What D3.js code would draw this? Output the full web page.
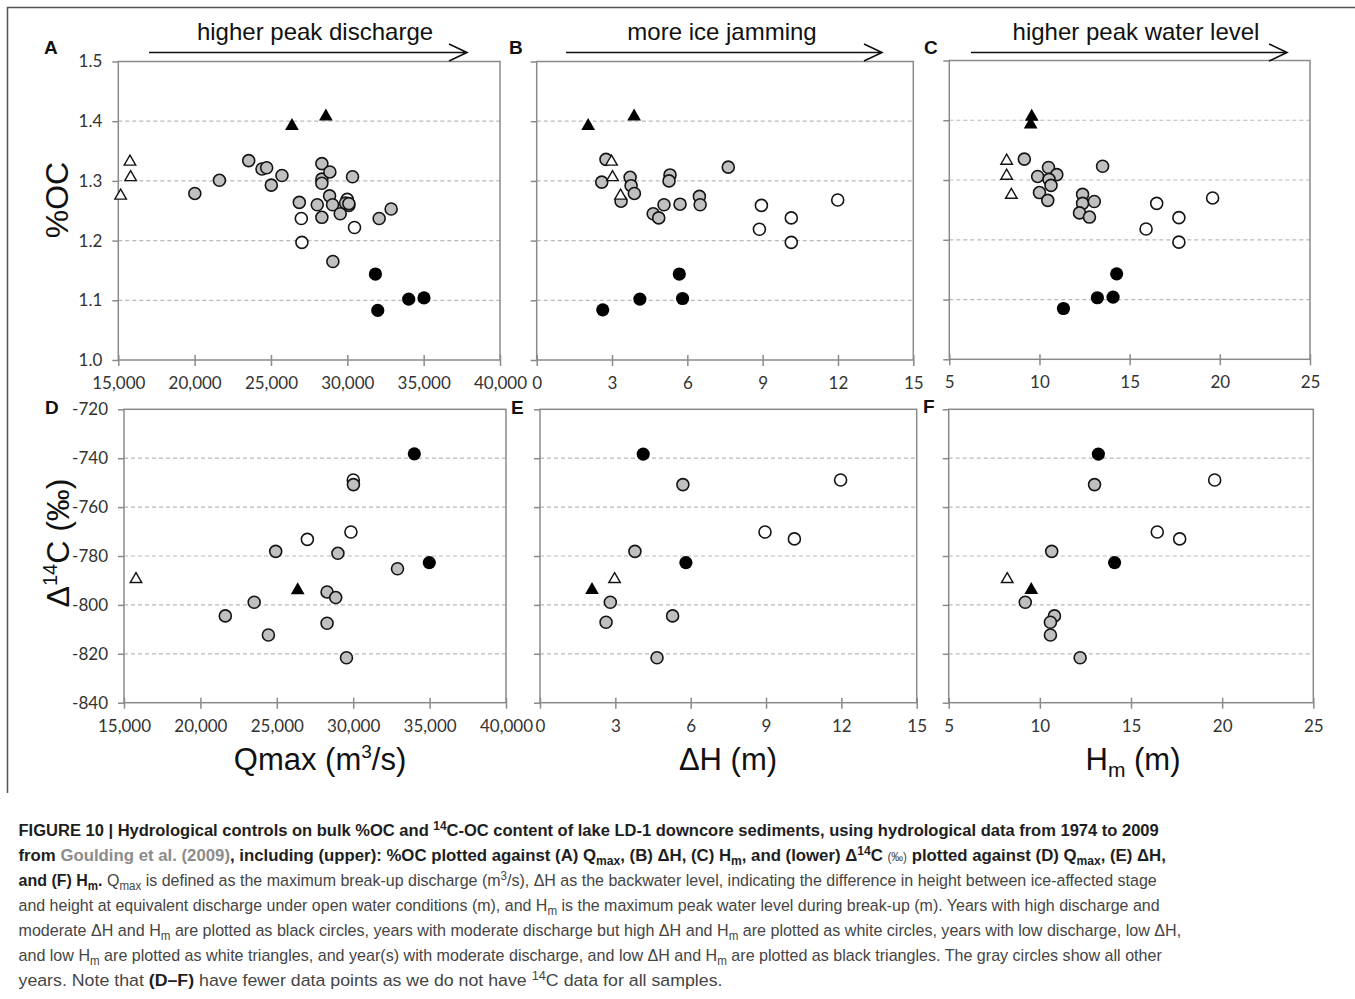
<!DOCTYPE html>
<html>
<head>
<meta charset="utf-8">
<script src="https://cdn.jsdelivr.net/npm/d3@7"></script>
<style>
  body { margin: 0; background: #fff; }
  svg { display: block; }
</style>
</head>
<body>
<div id="chart"></div>
<script>
// tick values for each axis
const qmaxTicks = [15000, 20000, 25000, 30000, 35000, 40000];
const dhTicks = [0, 3, 6, 9, 12, 15];
const hmTicks = [5, 10, 15, 20, 25];
const ocTicks = [1.0, 1.1, 1.2, 1.3, 1.4, 1.5];
const c14Ticks = [-840, -820, -800, -780, -760, -740, -720];

// point kinds: g = gray circle, w = white circle, b = black circle,
// wt = white triangle, bt = black triangle
const ocVsQmax = [
  ['g', 20011, 1.279], ['g', 21623, 1.301], ['g', 23540, 1.334], ['g', 24412, 1.320],
  ['g', 24717, 1.322], ['g', 25022, 1.293], ['g', 25719, 1.309], ['g', 26856, 1.264],
  ['g', 28031, 1.260], ['g', 28333, 1.329], ['g', 28333, 1.303], ['g', 28333, 1.296],
  ['g', 28857, 1.315], ['g', 28837, 1.275], ['g', 29033, 1.260], ['g', 29536, 1.245],
  ['g', 29884, 1.263], ['g', 30100, 1.262], ['g', 30340, 1.307], ['g', 28333, 1.239],
  ['g', 29053, 1.165], ['g', 32085, 1.237], ['g', 32870, 1.253],
  ['w', 26987, 1.237], ['w', 27026, 1.197], ['w', 29993, 1.269], ['w', 30471, 1.222], ['w', 30100, 1.259],
  ['b', 31841, 1.144], ['b', 31993, 1.083], ['b', 34020, 1.102], ['b', 35022, 1.104],
  ['wt', 15763, 1.332], ['wt', 15806, 1.306], ['wt', 15153, 1.275],
  ['bt', 26373, 1.392], ['bt', 28595, 1.408]
];

const ocVsDH = [
  ['g', 2.76, 1.336], ['g', 2.59, 1.298], ['g', 3.72, 1.306], ['g', 3.76, 1.292],
  ['g', 3.89, 1.279], ['g', 3.36, 1.266], ['g', 5.31, 1.310], ['g', 5.27, 1.300],
  ['g', 5.07, 1.260], ['g', 5.71, 1.261], ['g', 4.64, 1.245], ['g', 4.86, 1.238],
  ['g', 6.48, 1.274], ['g', 6.51, 1.260], ['g', 7.63, 1.323],
  ['w', 8.95, 1.259], ['w', 8.87, 1.219], ['w', 10.14, 1.238], ['w', 10.14, 1.197], ['w', 11.99, 1.268],
  ['b', 2.63, 1.084], ['b', 4.11, 1.102], ['b', 5.68, 1.144], ['b', 5.81, 1.103],
  ['wt', 2.98, 1.332], ['wt', 3.02, 1.306], ['wt', 3.34, 1.275],
  ['bt', 2.05, 1.392], ['bt', 3.88, 1.408]
];

const ocVsHm = [
  ['g', 9.16, 1.335], ['g', 10.50, 1.321], ['g', 10.96, 1.309], ['g', 9.90, 1.306],
  ['g', 10.53, 1.301], ['g', 10.64, 1.291], ['g', 10.0, 1.279], ['g', 10.46, 1.266],
  ['g', 13.50, 1.323], ['g', 12.39, 1.276], ['g', 12.39, 1.261], ['g', 13.04, 1.264],
  ['g', 12.22, 1.245], ['g', 12.77, 1.238],
  ['w', 16.50, 1.261], ['w', 15.91, 1.218], ['w', 17.73, 1.237], ['w', 17.73, 1.196], ['w', 19.6, 1.270],
  ['b', 14.28, 1.143], ['b', 13.21, 1.103], ['b', 14.08, 1.104], ['b', 11.33, 1.085],
  ['wt', 8.18, 1.332], ['wt', 8.18, 1.307], ['wt', 8.44, 1.275],
  ['bt', 9.57, 1.406], ['bt', 9.51, 1.393]
];

const c14VsQmax = [
  ['g', 30016, -750.8], ['g', 24928, -778.1], ['g', 29000, -778.9], ['g', 32900, -785.2],
  ['g', 23520, -798.9], ['g', 28290, -794.7], ['g', 28855, -797.0], ['g', 21630, -804.5],
  ['g', 24450, -812.3], ['g', 28290, -807.5], ['g', 29560, -821.6],
  ['w', 30005, -748.9], ['w', 29850, -770.2], ['w', 27000, -773.2],
  ['b', 34000, -738.2], ['b', 34980, -782.7],
  ['wt', 15785, -789.5],
  ['bt', 26368, -794.0]
];

const c14VsDH = [
  ['g', 5.69, -750.8], ['g', 3.78, -778.1], ['g', 2.80, -798.9], ['g', 2.63, -807.1],
  ['g', 5.28, -804.5], ['g', 4.66, -821.6],
  ['w', 11.97, -748.9], ['w', 8.96, -770.2], ['w', 10.13, -773.0],
  ['b', 4.11, -738.3], ['b', 5.81, -782.7],
  ['wt', 2.97, -789.5],
  ['bt', 2.07, -793.9]
];

const c14VsHm = [
  ['g', 13.0, -750.8], ['g', 10.65, -778.1], ['g', 9.20, -798.9], ['g', 10.80, -804.5],
  ['g', 10.58, -807.1], ['g', 10.58, -812.3], ['g', 12.21, -821.6],
  ['w', 19.59, -748.9], ['w', 16.44, -770.2], ['w', 17.67, -773.0],
  ['b', 13.21, -738.3], ['b', 14.10, -782.7],
  ['wt', 8.21, -789.5],
  ['bt', 9.53, -793.9]
];

const width = 1355, height = 999;
const tickFont = 'Lato, "Open Sans", sans-serif';
const titleFont = '"Liberation Sans", Arial, sans-serif';

const svg = d3.select('#chart').append('svg')
  .attr('width', width)
  .attr('height', height);

// outer figure frame (top and left edges visible)
svg.append('path')
  .attr('d', 'M7.5,793 V7.5 H1355')
  .attr('fill', 'none')
  .attr('stroke', '#555')
  .attr('stroke-width', 1.5);

const commaFmt = d3.format(',');
const panels = [
  { letter: 'A', data: ocVsQmax, xTicks: qmaxTicks, yTicks: ocTicks, x0: 118.3, x1: 500, y0: 61.5, y1: 360, yLabels: d => d.toFixed(1), xLabels: commaFmt, lx: 44, ly: 54 },
  { letter: 'B', data: ocVsDH, xTicks: dhTicks, yTicks: ocTicks, x0: 536.7, x1: 913.3, y0: 61.5, y1: 360, yLabels: null, xLabels: d => String(d), lx: 509, ly: 54 },
  { letter: 'C', data: ocVsHm, xTicks: hmTicks, yTicks: ocTicks, x0: 949.3, x1: 1310, y0: 60.5, y1: 359.3, yLabels: null, xLabels: d => String(d), lx: 924, ly: 54 },
  { letter: 'D', data: c14VsQmax, xTicks: qmaxTicks, yTicks: c14Ticks, x0: 124, x1: 506, y0: 409.3, y1: 702.7, yLabels: d => String(d), xLabels: commaFmt, lx: 45, ly: 414 },
  { letter: 'E', data: c14VsDH, xTicks: dhTicks, yTicks: c14Ticks, x0: 540, x1: 916.7, y0: 409.3, y1: 702.7, yLabels: null, xLabels: d => String(d), lx: 511, ly: 414 },
  { letter: 'F', data: c14VsHm, xTicks: hmTicks, yTicks: c14Ticks, x0: 948.7, x1: 1313.3, y0: 409.3, y1: 702.7, yLabels: null, xLabels: d => String(d), lx: 923, ly: 413 }
];

const drawOrder = { w: 0, g: 1, b: 2, wt: 3, bt: 4 };
const triWhite = d3.symbol(d3.symbolTriangle, 58)();
const triBlack = d3.symbol(d3.symbolTriangle, 82)();

function drawPanel(p) {
  const x = d3.scaleLinear()
    .domain([p.xTicks[0], p.xTicks[p.xTicks.length - 1]])
    .range([p.x0, p.x1]);
  const y = d3.scaleLinear()
    .domain([p.yTicks[0], p.yTicks[p.yTicks.length - 1]])
    .range([p.y1, p.y0]);

  const g = svg.append('g').attr('class', 'panel');

  // dashed horizontal gridlines
  g.selectAll('line.grid')
    .data(p.yTicks.slice(1, -1))
    .join('line')
    .attr('class', 'grid')
    .attr('x1', p.x0)
    .attr('x2', p.x1)
    .attr('y1', d => y(d))
    .attr('y2', d => y(d))
    .attr('stroke', '#b9b9b9')
    .attr('stroke-width', 1.2)
    .attr('stroke-dasharray', '4,3');

  // y axis
  const yAxis = g.append('g')
    .attr('transform', `translate(${p.x0},0)`)
    .call(d3.axisLeft(y)
      .tickValues(p.yTicks)
      .tickSizeInner(6)
      .tickSizeOuter(0)
      .tickPadding(10)
      .tickFormat(p.yLabels ? p.yLabels : () => ''));

  // x axis, ticks cross the axis line
  const xAxis = g.append('g')
    .attr('transform', `translate(0,${p.y1})`)
    .call(d3.axisBottom(x)
      .tickValues(p.xTicks)
      .tickSizeInner(6)
      .tickSizeOuter(0)
      .tickPadding(11)
      .tickFormat(p.xLabels));
  xAxis.selectAll('.tick line').attr('y1', -5);

  [yAxis, xAxis].forEach(ax => {
    ax.select('.domain').remove();
    ax.selectAll('.tick line').attr('stroke', '#8a8a8a').attr('stroke-width', 1.5);
    ax.selectAll('.tick text')
      .attr('font-family', tickFont)
      .attr('font-size', 17)
      .attr('fill', '#333');
  });

  // plot area frame
  g.append('rect')
    .attr('x', p.x0)
    .attr('y', p.y0)
    .attr('width', p.x1 - p.x0)
    .attr('height', p.y1 - p.y0)
    .attr('fill', 'none')
    .attr('stroke', '#8a8a8a')
    .attr('stroke-width', 1.5);

  // points
  const pts = p.data.slice().sort((a, b) => drawOrder[a[0]] - drawOrder[b[0]]);
  pts.forEach(d => {
    const [kind, vx, vy] = d;
    const cx = x(vx), cy = y(vy);
    if (kind === 'g' || kind === 'w') {
      g.append('circle')
        .attr('cx', cx).attr('cy', cy).attr('r', 6)
        .attr('fill', kind === 'g' ? '#c0c0c0' : '#fff')
        .attr('stroke', '#141414')
        .attr('stroke-width', 1.6);
    } else if (kind === 'b') {
      g.append('circle')
        .attr('cx', cx).attr('cy', cy).attr('r', 6.6)
        .attr('fill', '#000');
    } else {
      g.append('path')
        .attr('d', kind === 'wt' ? triWhite : triBlack)
        .attr('transform', `translate(${cx},${cy})`)
        .attr('fill', kind === 'wt' ? '#fff' : '#000')
        .attr('stroke', kind === 'wt' ? '#141414' : 'none')
        .attr('stroke-width', 1.4);
    }
  });

  // panel letter
  svg.append('text')
    .attr('x', p.lx)
    .attr('y', p.ly)
    .attr('font-family', titleFont)
    .attr('font-weight', 'bold')
    .attr('font-size', 19)
    .attr('fill', '#111')
    .text(p.letter);
}

panels.forEach(drawPanel);

// arrows with labels above the top row
const arrows = [
  { label: 'higher peak discharge', cx: 315, x0: 149, x1: 467 },
  { label: 'more ice jamming', cx: 722, x0: 566, x1: 882 },
  { label: 'higher peak water level', cx: 1136, x0: 971, x1: 1287 }
];
arrows.forEach(a => {
  svg.append('text')
    .attr('x', a.cx)
    .attr('y', 40)
    .attr('text-anchor', 'middle')
    .attr('font-family', titleFont)
    .attr('font-size', 24)
    .attr('fill', '#111')
    .text(a.label);
  svg.append('path')
    .attr('d', `M${a.x0},52.5 H${a.x1} M${a.x1 - 18},44 L${a.x1},52.5 L${a.x1 - 18},61`)
    .attr('fill', 'none')
    .attr('stroke', '#111')
    .attr('stroke-width', 1.6);
});

// axis titles
svg.append('text')
  .attr('transform', 'translate(68,200) rotate(-90)')
  .attr('text-anchor', 'middle')
  .attr('font-family', titleFont)
  .attr('font-size', 32)
  .attr('fill', '#111')
  .text('%OC');

const c14Title = svg.append('text')
  .attr('transform', 'translate(69,543) rotate(-90)')
  .attr('text-anchor', 'middle')
  .attr('font-family', titleFont)
  .attr('font-size', 32)
  .attr('fill', '#111');
c14Title.append('tspan').text('Δ');
c14Title.append('tspan').attr('font-size', 20).attr('dy', -12).text('14');
c14Title.append('tspan').attr('dy', 12).text('C (‰)');

const qTitle = svg.append('text')
  .attr('x', 320).attr('y', 770)
  .attr('text-anchor', 'middle')
  .attr('font-family', titleFont)
  .attr('font-size', 31)
  .attr('fill', '#111');
qTitle.append('tspan').text('Qmax (m');
qTitle.append('tspan').attr('font-size', 19).attr('dy', -12).text('3');
qTitle.append('tspan').attr('dy', 12).text('/s)');

svg.append('text')
  .attr('x', 728).attr('y', 770)
  .attr('text-anchor', 'middle')
  .attr('font-family', titleFont)
  .attr('font-size', 31)
  .attr('fill', '#111')
  .text('ΔH (m)');

const hTitle = svg.append('text')
  .attr('x', 1133).attr('y', 770)
  .attr('text-anchor', 'middle')
  .attr('font-family', titleFont)
  .attr('font-size', 31)
  .attr('fill', '#111');
hTitle.append('tspan').text('H');
hTitle.append('tspan').attr('font-size', 21).attr('dy', 7).text('m');
hTitle.append('tspan').attr('dy', -7).text(' (m)');

// caption: [style, text, vertical]  b = bold, r = regular, l = link, s = small regular
const captionLines = [
  { end: 1160, segs: [['b', 'FIGURE 10 | Hydrological controls on bulk %OC and '], ['b', '14', 'sup'], ['b', 'C-OC content of lake LD-1 downcore sediments, using hydrological data from 1974 to 2009']] },
  { end: 1167, segs: [['b', 'from '], ['l', 'Goulding et al. (2009)'], ['b', ', including (upper): %OC plotted against (A) Q'], ['b', 'max', 'sub'], ['b', ', (B) ΔH, (C) H'], ['b', 'm', 'sub'], ['b', ', and (lower) Δ'], ['b', '14', 'sup'], ['b', 'C '], ['s', '(‰)'], ['b', ' plotted against (D) Q'], ['b', 'max', 'sub'], ['b', ', (E) ΔH,']] },
  { end: 1158, segs: [['b', 'and (F) H'], ['b', 'm', 'sub'], ['b', '. '], ['r', 'Q'], ['r', 'max', 'sub'], ['r', ' is defined as the maximum break-up discharge (m'], ['r', '3', 'sup'], ['r', '/s), ΔH as the backwater level, indicating the difference in height between ice-affected stage']] },
  { end: 1160, segs: [['r', 'and height at equivalent discharge under open water conditions (m), and H'], ['r', 'm', 'sub'], ['r', ' is the maximum peak water level during break-up (m). Years with high discharge and']] },
  { end: 1182, segs: [['r', 'moderate ΔH and H'], ['r', 'm', 'sub'], ['r', ' are plotted as black circles, years with moderate discharge but high ΔH and H'], ['r', 'm', 'sub'], ['r', ' are plotted as white circles, years with low discharge, low ΔH,']] },
  { end: 1162, segs: [['r', 'and low H'], ['r', 'm', 'sub'], ['r', ' are plotted as white triangles, and year(s) with moderate discharge, and low ΔH and H'], ['r', 'm', 'sub'], ['r', ' are plotted as black triangles. The gray circles show all other']] },
  { end: 723, segs: [['r', 'years. Note that '], ['b', '(D–F)'], ['r', ' have fewer data points as we do not have '], ['r', '14', 'sup'], ['r', 'C data for all samples.']] }
];

const capX = 18.5, capY0 = 836, capStep = 25, capSize = 17;
captionLines.forEach((line, i) => {
  const t = svg.append('text')
    .attr('font-family', '"Liberation Sans Narrow", "Liberation Sans", Arial, sans-serif')
    .attr('font-size', capSize);
  let shift = 0;
  line.segs.forEach(([style, txt, vert]) => {
    const target = vert === 'sub' ? 4 : vert === 'sup' ? -6 : 0;
    const ts = t.append('tspan')
      .attr('dy', target - shift)
      .attr('font-weight', style === 'b' || style === 'l' ? 'bold' : 'normal')
      .attr('fill', style === 'l' ? '#8c8c8c' : style === 'b' ? '#1e1e1e' : '#454545')
      .text(txt);
    if (vert) ts.attr('font-size', capSize * 0.72);
    if (style === 's') ts.attr('font-size', capSize * 0.7);
    shift = target;
  });
  const w = t.node().getBBox().width;
  const sx = (line.end - capX) / w;
  t.attr('transform', `translate(${capX},${capY0 + i * capStep}) scale(${sx},1)`);
});
</script>
</body>
</html>
